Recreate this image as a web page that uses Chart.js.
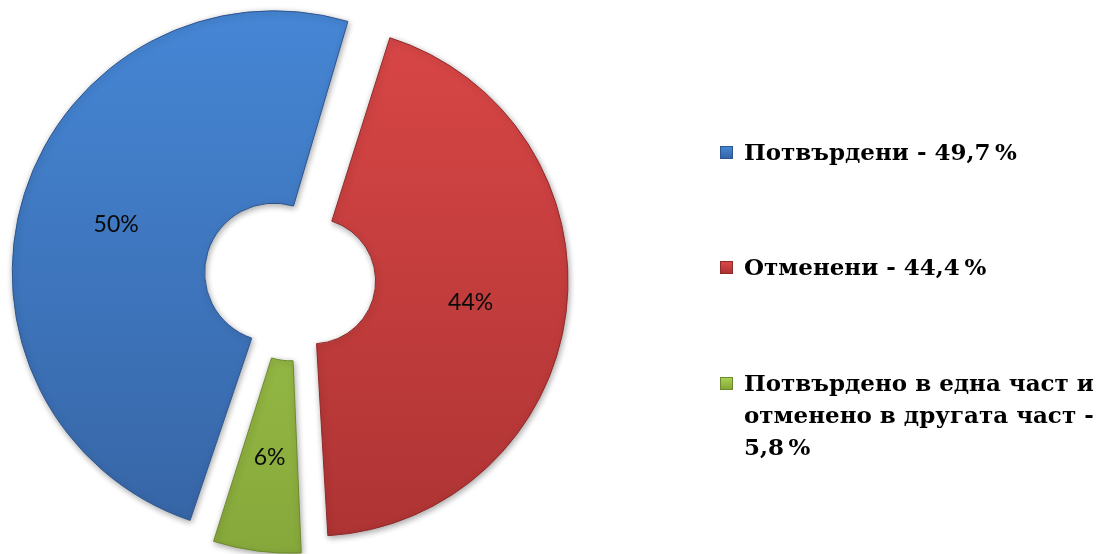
<!DOCTYPE html>
<html>
<head>
<meta charset="utf-8">
<script src="https://cdn.jsdelivr.net/npm/chart.js@4.4.1/dist/chart.umd.min.js"></script>
<style>
  html, body { margin: 0; padding: 0; background: #fff; }
  #wrap { position: relative; width: 1098px; height: 554px; }
  #chart { position: absolute; left: 0; top: 0; }
  #legend {
    position: absolute; left: 720px; top: 0; width: 378px;
    font-family: "DejaVu Serif", serif; font-weight: bold; font-size: 23px;
    color: #000; line-height: 32px;
  }
  .item { position: absolute; left: 0; display: flex; align-items: flex-start; }
  .box { width: 13px; height: 13px; margin-top: 10px; margin-right: 11px; flex: none; box-sizing: border-box; }
  .txt { width: 354px; }
</style>
</head>
<body>
<div id="wrap">
  <canvas id="chart" width="1098" height="554"></canvas>
  <div id="legend"></div>
</div>
<script>
const labels = ["Потвърдени", "Отменени", "Потвърдено в една част и отменено в другата част"];
const values = [49.7, 44.4, 5.8];
const colorsTop = ["#4687d6", "#da4747", "#a8d152"];
const colorsBottom = ["#3664a4", "#ad3333", "#85a63a"];
const edgeColors = ["#2d5590", "#8f2a2a", "#6d8a2e"];
const legendTops = [136, 251, 367];

function sliceGradient(context) {
  const chart = context.chart;
  const area = chart.chartArea;
  const i = context.dataIndex;
  if (!area) return colorsTop[i];
  const g = chart.ctx.createLinearGradient(0, area.top, 0, area.bottom);
  g.addColorStop(0, colorsTop[i]);
  g.addColorStop(1, colorsBottom[i]);
  return g;
}

const shadowPlugin = {
  id: "sliceShadow",
  beforeDatasetsDraw(chart) {
    const ctx = chart.ctx;
    ctx.save();
    ctx.shadowColor = "rgba(0,0,0,0.35)";
    ctx.shadowBlur = 6;
    ctx.shadowOffsetX = 1;
    ctx.shadowOffsetY = 2;
  },
  afterDatasetsDraw(chart) {
    chart.ctx.restore();
  },
};

const percentLabels = {
  id: "percentLabels",
  afterDatasetsDraw(chart) {
    const ctx = chart.ctx;
    const meta = chart.getDatasetMeta(0);
    const total = values.reduce((a, b) => a + b, 0);
    ctx.save();
    ctx.font = "23px Lato, 'Open Sans', sans-serif";
    ctx.fillStyle = "#0a0a0a";
    ctx.textAlign = "center";
    ctx.textBaseline = "middle";
    meta.data.forEach((arc, i) => {
      const p = arc.getProps(["x", "y", "startAngle", "endAngle", "innerRadius", "outerRadius", "circumference"]);
      const off = (arc.options.offset || 0) / 4;
      const fix = 1 - Math.sin(Math.min(Math.PI, p.circumference));
      const mid = (p.startAngle + p.endAngle) / 2;
      const rho = (p.innerRadius + p.outerRadius) / 2 + off * fix + off;
      const pct = Math.round((values[i] / total) * 100) + "%";
      ctx.fillText(pct, p.x + Math.cos(mid) * rho, p.y + Math.sin(mid) * rho + 2);
    });
    ctx.restore();
  },
};

new Chart(document.getElementById("chart"), {
  type: "doughnut",
  data: {
    labels,
    datasets: [
      {
        data: values,
        backgroundColor: sliceGradient,
        borderColor: edgeColors,
        borderWidth: 1,
        offset: 80,
      },
    ],
  },
  options: {
    responsive: false,
    animation: false,
    rotation: 198,
    radius: 242,
    cutout: "20.5%",
    layout: { padding: { left: 3, right: 515, top: 3, bottom: 0 } },
    plugins: {
      legend: { display: false },
      tooltip: { enabled: false },
    },
  },
  plugins: [shadowPlugin, percentLabels],
});

const legendEl = document.getElementById("legend");
labels.forEach((label, i) => {
  const item = document.createElement("div");
  item.className = "item";
  item.style.top = legendTops[i] + "px";
  const box = document.createElement("div");
  box.className = "box";
  box.style.background = `linear-gradient(${colorsTop[i]}, ${colorsBottom[i]})`;
  box.style.border = `1px solid ${edgeColors[i]}`;
  const txt = document.createElement("div");
  txt.className = "txt";
  txt.textContent = `${label} - ${values[i].toFixed(1).replace(".", ",")}\u2009%`;
  item.appendChild(box);
  item.appendChild(txt);
  legendEl.appendChild(item);
});
</script>
</body>
</html>
